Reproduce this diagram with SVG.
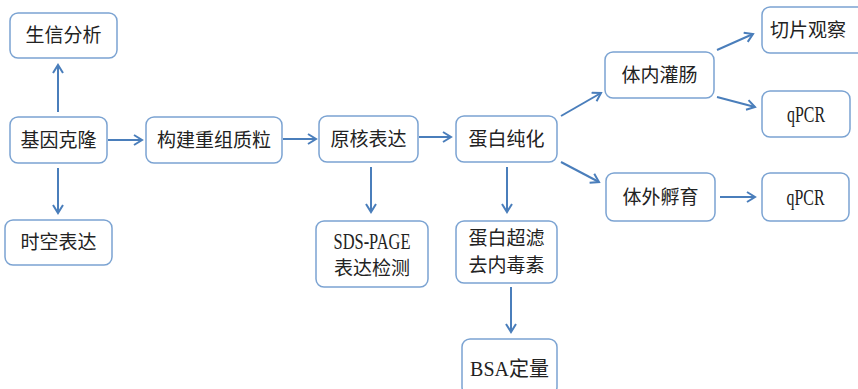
<svg xmlns="http://www.w3.org/2000/svg" width="858" height="389" viewBox="0 0 858 389">
<defs>
<marker id="ah" markerWidth="12" markerHeight="12" refX="9" refY="6" orient="auto" markerUnits="userSpaceOnUse">
<path d="M1,1 L9,6 L1,11" fill="none" stroke="#4a7ebb" stroke-width="2"/>
</marker>
<style>
.box{fill:#fff;stroke:#7ba3d2;stroke-width:1.5}
.t{font-family:"Liberation Serif","Noto Sans CJK SC",serif;font-size:19px;fill:#222;text-anchor:middle}
.l{font-size:23px}
.c{fill:none;stroke:#4a7ebb;stroke-width:2;marker-end:url(#ah)}
</style>
</defs>
<rect width="858" height="389" fill="#fff"/>
<g id="connectors">
<line class="c" x1="58" y1="112" x2="58" y2="65"/>
<line class="c" x1="58" y1="168" x2="58" y2="213"/>
<line class="c" x1="108" y1="140" x2="142" y2="140"/>
<line class="c" x1="283" y1="139" x2="316" y2="139"/>
<line class="c" x1="419" y1="137" x2="451" y2="137"/>
<line class="c" x1="371" y1="167" x2="371" y2="212"/>
<line class="c" x1="507" y1="167" x2="507" y2="212"/>
<line class="c" x1="511" y1="287" x2="511" y2="332"/>
<line class="c" x1="561" y1="116" x2="601" y2="93"/>
<line class="c" x1="561" y1="162" x2="599" y2="182"/>
<line class="c" x1="717" y1="50" x2="753" y2="34"/>
<line class="c" x1="717" y1="97" x2="755" y2="107"/>
<line class="c" x1="720" y1="197" x2="755" y2="197"/>
</g>
<g id="n_shengxin"><rect class="box" x="10" y="13" width="107" height="45" rx="8"/><text class="t" x="63.5" y="42">生信分析</text></g>
<g id="n_jiyin"><rect class="box" x="10" y="117" width="97" height="46" rx="8"/><text class="t" x="58.5" y="147">基因克隆</text></g>
<g id="n_shikong"><rect class="box" x="5" y="220" width="107" height="45" rx="8"/><text class="t" x="58.5" y="249">时空表达</text></g>
<g id="n_goujian"><rect class="box" x="146" y="117" width="136" height="46" rx="8"/><text class="t" x="214" y="147">构建重组质粒</text></g>
<g id="n_yuanhe"><rect class="box" x="319" y="116" width="99" height="46" rx="8"/><text class="t" x="368.5" y="146">原核表达</text></g>
<g id="n_sds"><rect class="box" x="316" y="221" width="112" height="66" rx="8"/><text class="t l" x="372" y="249" textLength="77" lengthAdjust="spacingAndGlyphs">SDS-PAGE</text><text class="t" x="372" y="275">表达检测</text></g>
<g id="n_chunhua"><rect class="box" x="456" y="116" width="101" height="46" rx="8"/><text class="t" x="506.5" y="146">蛋白纯化</text></g>
<g id="n_chaolv"><rect class="box" x="456" y="221" width="101" height="62" rx="8"/><text class="t" x="506.5" y="245">蛋白超滤</text><text class="t" x="506.5" y="272">去内毒素</text></g>
<g id="n_bsa"><rect class="box" x="462" y="339" width="95" height="56" rx="8"/><text class="t" x="509.5" y="376" style="font-size:20px">BSA定量</text></g>
<g id="n_tinei"><rect class="box" x="605" y="52" width="109" height="46" rx="8"/><text class="t" x="659.5" y="82">体内灌肠</text></g>
<g id="n_tiwai"><rect class="box" x="606" y="173" width="109" height="48" rx="8"/><text class="t" x="660.5" y="204">体外孵育</text></g>
<g id="n_qiepian"><rect class="box" x="762" y="7" width="106" height="46" rx="8"/><text class="t" x="808" y="37">切片观察</text></g>
<g id="n_qpcr1"><rect class="box" x="762" y="91" width="88" height="46" rx="8"/><text class="t l" x="806" y="122" textLength="38" lengthAdjust="spacingAndGlyphs">qPCR</text></g>
<g id="n_qpcr2"><rect class="box" x="762" y="173" width="87" height="48" rx="8"/><text class="t l" x="805.5" y="205" textLength="38" lengthAdjust="spacingAndGlyphs">qPCR</text></g>
</svg>
